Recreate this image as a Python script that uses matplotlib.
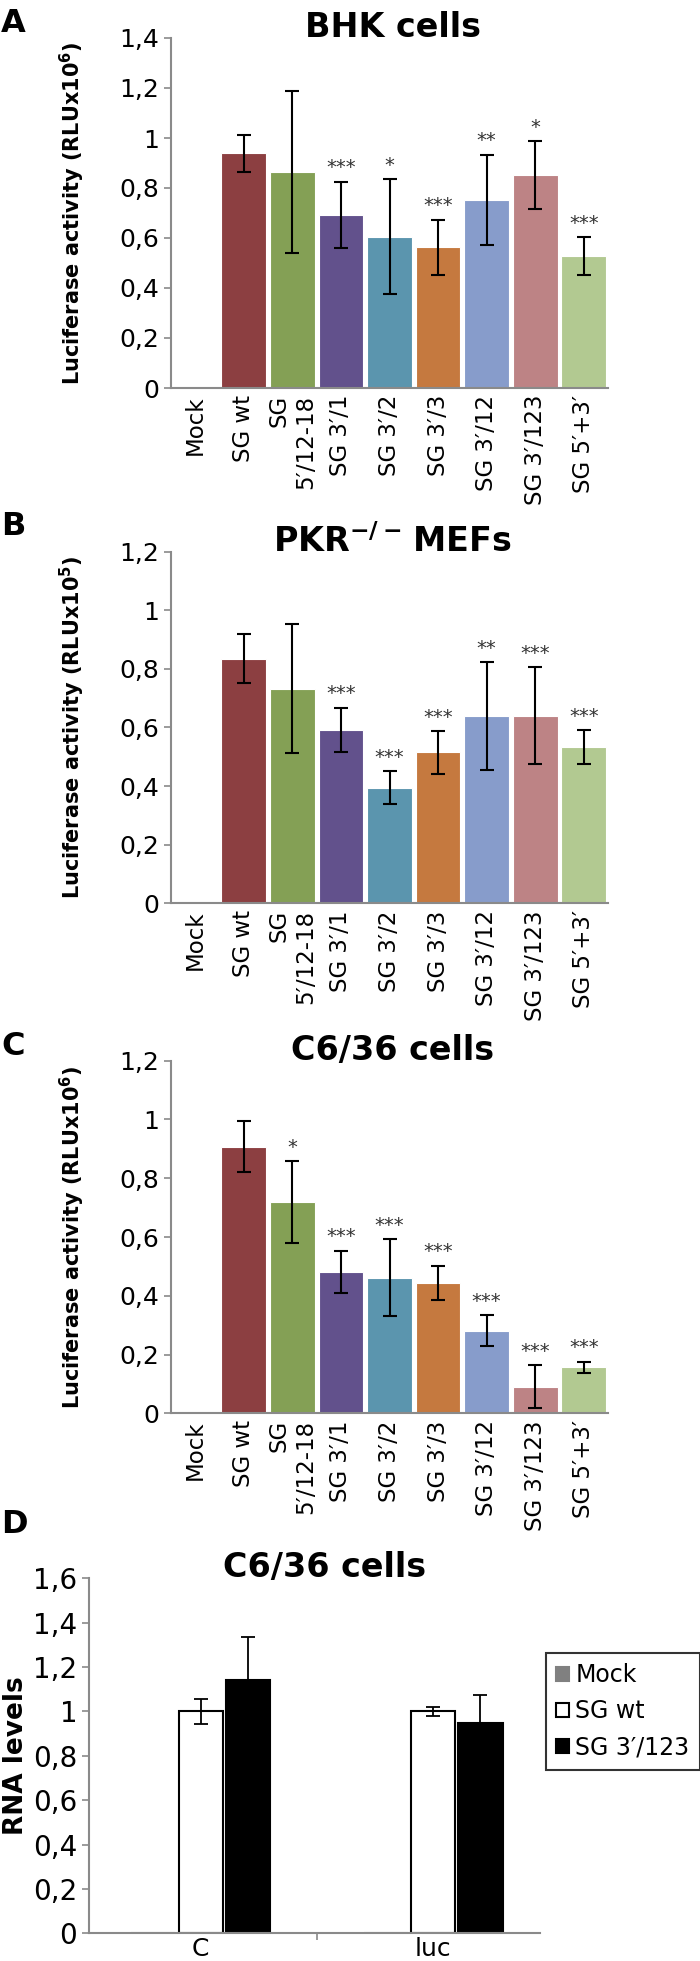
import numpy as np
import matplotlib
matplotlib.use('Agg')
import matplotlib.pyplot as plt
from matplotlib.ticker import FuncFormatter, MultipleLocator

plt.rcParams['font.family'] = ['DejaVu Sans']
plt.rcParams['mathtext.fontset'] = 'dejavusans'

# ---- data ----
constructs = ['Mock', 'SG wt', 'SG\n5\u2032/12-18', 'SG 3\u2032/1', 'SG 3\u2032/2', 'SG 3\u2032/3',
              'SG 3\u2032/12', 'SG 3\u2032/123', 'SG 5\u2032+3\u2032']
barColors = ['#8a8a8a', '#8c3f41', '#84a055', '#62518c', '#5b95ae', '#c5793f',
             '#879ccb', '#bd8385', '#b2c991']

bhkMean = [0.0, 0.939, 0.863, 0.692, 0.605, 0.564, 0.752, 0.852, 0.529]
bhkErr = [0.0, 0.073, 0.324, 0.133, 0.230, 0.110, 0.182, 0.135, 0.075]
bhkStars = ['', '', '', '***', '*', '***', '**', '*', '***']

pkrMean = [0.003, 0.835, 0.732, 0.593, 0.395, 0.515, 0.639, 0.640, 0.532]
pkrErr = [0.0, 0.084, 0.220, 0.075, 0.055, 0.073, 0.183, 0.166, 0.058]
pkrStars = ['', '', '', '***', '***', '***', '**', '***', '***']

c636Mean = [0.0, 0.907, 0.718, 0.482, 0.462, 0.444, 0.281, 0.091, 0.157]
c636Err = [0.0, 0.087, 0.139, 0.071, 0.131, 0.058, 0.052, 0.072, 0.019]
c636Stars = ['', '', '*', '***', '***', '***', '***', '***', '***']

rnaTargets = ['C', 'luc']
rnaSeries = ['Mock', 'SG wt', 'SG 3\u2032/123']
rnaMean = {'Mock': [0.0, 0.0], 'SG wt': [1.0, 1.0], 'SG 3\u2032/123': [1.14, 0.95]}
rnaErr = {'Mock': [0.0, 0.0], 'SG wt': [0.055, 0.02], 'SG 3\u2032/123': [0.194, 0.123]}

H = 1961.0
W = 700.0
fig = plt.figure(figsize=(7, 19.61), dpi=100)

commaFmt = FuncFormatter(lambda v, p: ('%g' % round(v, 2)).replace('.', ','))
gray = '#8a8a8a'


def style_axes(ax, fs):
    for s in ['top', 'right']:
        ax.spines[s].set_visible(False)
    for s in ['left', 'bottom']:
        ax.spines[s].set_color(gray)
        ax.spines[s].set_linewidth(1.5)
    ax.yaxis.set_major_formatter(commaFmt)
    ax.tick_params(axis='y', colors=gray, labelcolor='black', labelsize=fs, length=5, width=1.2)


def lum_panel(rect, means, errs, stars, ymax, ylab, title, letter, titleY, letterY):
    ax = fig.add_axes(rect)
    x = np.arange(len(constructs))
    ax.bar(x, means, width=0.92, color=barColors, edgecolor='white', linewidth=0.8, zorder=2)
    ax.errorbar(x[1:], means[1:], yerr=errs[1:], fmt='none', ecolor='black',
                elinewidth=1.5, capsize=5, capthick=1.5, zorder=3)
    for xi, m, e, s in zip(x, means, errs, stars):
        if s:
            ax.annotate(s, (xi, m + e), xytext=(0, 10), textcoords='offset points',
                        ha='center', va='center', fontsize=14, color='#333333')
    ax.set_xlim(-0.5, len(constructs) - 0.5)
    ax.set_ylim(0, ymax)
    ax.yaxis.set_major_locator(MultipleLocator(0.2))
    style_axes(ax, 18)
    ax.set_xticks(x)
    ax.set_xticklabels(constructs, rotation=90, fontsize=16.5, ha='center', va='top',
                       multialignment='right')
    ax.tick_params(axis='x', length=0, pad=5)
    cx = rect[0] + rect[2] / 2
    fig.text(cx + 3 / W, 1 - titleY / H, title, ha='center', va='baseline',
             fontsize=24, fontweight='bold')
    fig.text(1 / W, 1 - letterY / H, letter, ha='left', va='baseline',
             fontsize=23, fontweight='bold')
    fig.text(72 / W, rect[1] + rect[3] / 2, ylab, rotation=90, ha='center', va='center',
             fontsize=15, fontweight='bold')
    return ax


axL, axW = 171 / W, 437 / W
lum_panel([axL, 1 - 388 / H, axW, 350 / H], bhkMean, bhkErr, bhkStars, 1.4,
          r'Luciferase activity (RLUx10$^{\mathbf{6}}$)', 'BHK cells', 'A', 37, 32)
lum_panel([axL, 1 - 903.3 / H, axW, 351.6 / H], pkrMean, pkrErr, pkrStars, 1.2,
          r'Luciferase activity (RLUx10$^{\mathbf{5}}$)', r'PKR$^{\mathbf{-/-}}\,$MEFs', 'B', 552, 535)
lum_panel([axL, 1 - 1413.3 / H, axW, 352.6 / H], c636Mean, c636Err, c636Stars, 1.2,
          r'Luciferase activity (RLUx10$^{\mathbf{6}}$)', 'C6/36 cells', 'C', 1060, 1055)

# ---- panel D ----
rectD = [89 / W, 1 - 1933.3 / H, 451 / W, 355 / H]
axD = fig.add_axes(rectD)
xg = np.arange(len(rnaTargets))
offsets = [-0.204, 0.0, 0.204]
faces = ['#808080', 'white', 'black']
edges = ['#808080', 'black', 'black']
for name, off, fc, ec in zip(rnaSeries, offsets, faces, edges):
    axD.bar(xg + off, rnaMean[name], width=0.19, color=fc, edgecolor=ec,
            linewidth=1.5, label=name, zorder=2)
    if name != 'Mock':
        axD.errorbar(xg + off, rnaMean[name], yerr=rnaErr[name], fmt='none', ecolor='black',
                     elinewidth=1.3, capsize=5, capthick=1.3, zorder=3)
axD.set_xlim(-0.48, 1.46)
axD.set_ylim(0, 1.6)
axD.yaxis.set_major_locator(MultipleLocator(0.2))
style_axes(axD, 20)
axD.set_xticks(xg)
axD.set_xticklabels(rnaTargets, fontsize=18)
axD.tick_params(axis='x', length=0, pad=3)
axD.set_xticks([0.5], minor=True)
axD.tick_params(axis='x', which='minor', length=5, width=1.2, colors=gray)
leg = axD.legend(loc='upper left', bbox_to_anchor=(1.013, 0.79), fontsize=17,
                 handlelength=0.55, handleheight=0.55, handletextpad=0.25, labelspacing=0.5,
                 frameon=True, fancybox=False, borderpad=0.45, borderaxespad=0)
leg.get_frame().set_edgecolor('black')
leg.get_frame().set_linewidth(1.5)
fig.text(rectD[0] + rectD[2] / 2 + 10 / W, 1 - 1577 / H, 'C6/36 cells', ha='center',
         va='baseline', fontsize=24, fontweight='bold')
fig.text(1 / W, 1 - 1533 / H, 'D', ha='left', va='baseline', fontsize=23, fontweight='bold')
fig.text(16 / W, rectD[1] + rectD[3] / 2, 'RNA levels', rotation=90, ha='center',
         va='center', fontsize=19, fontweight='bold')

plt.savefig('out.png', dpi=100)
